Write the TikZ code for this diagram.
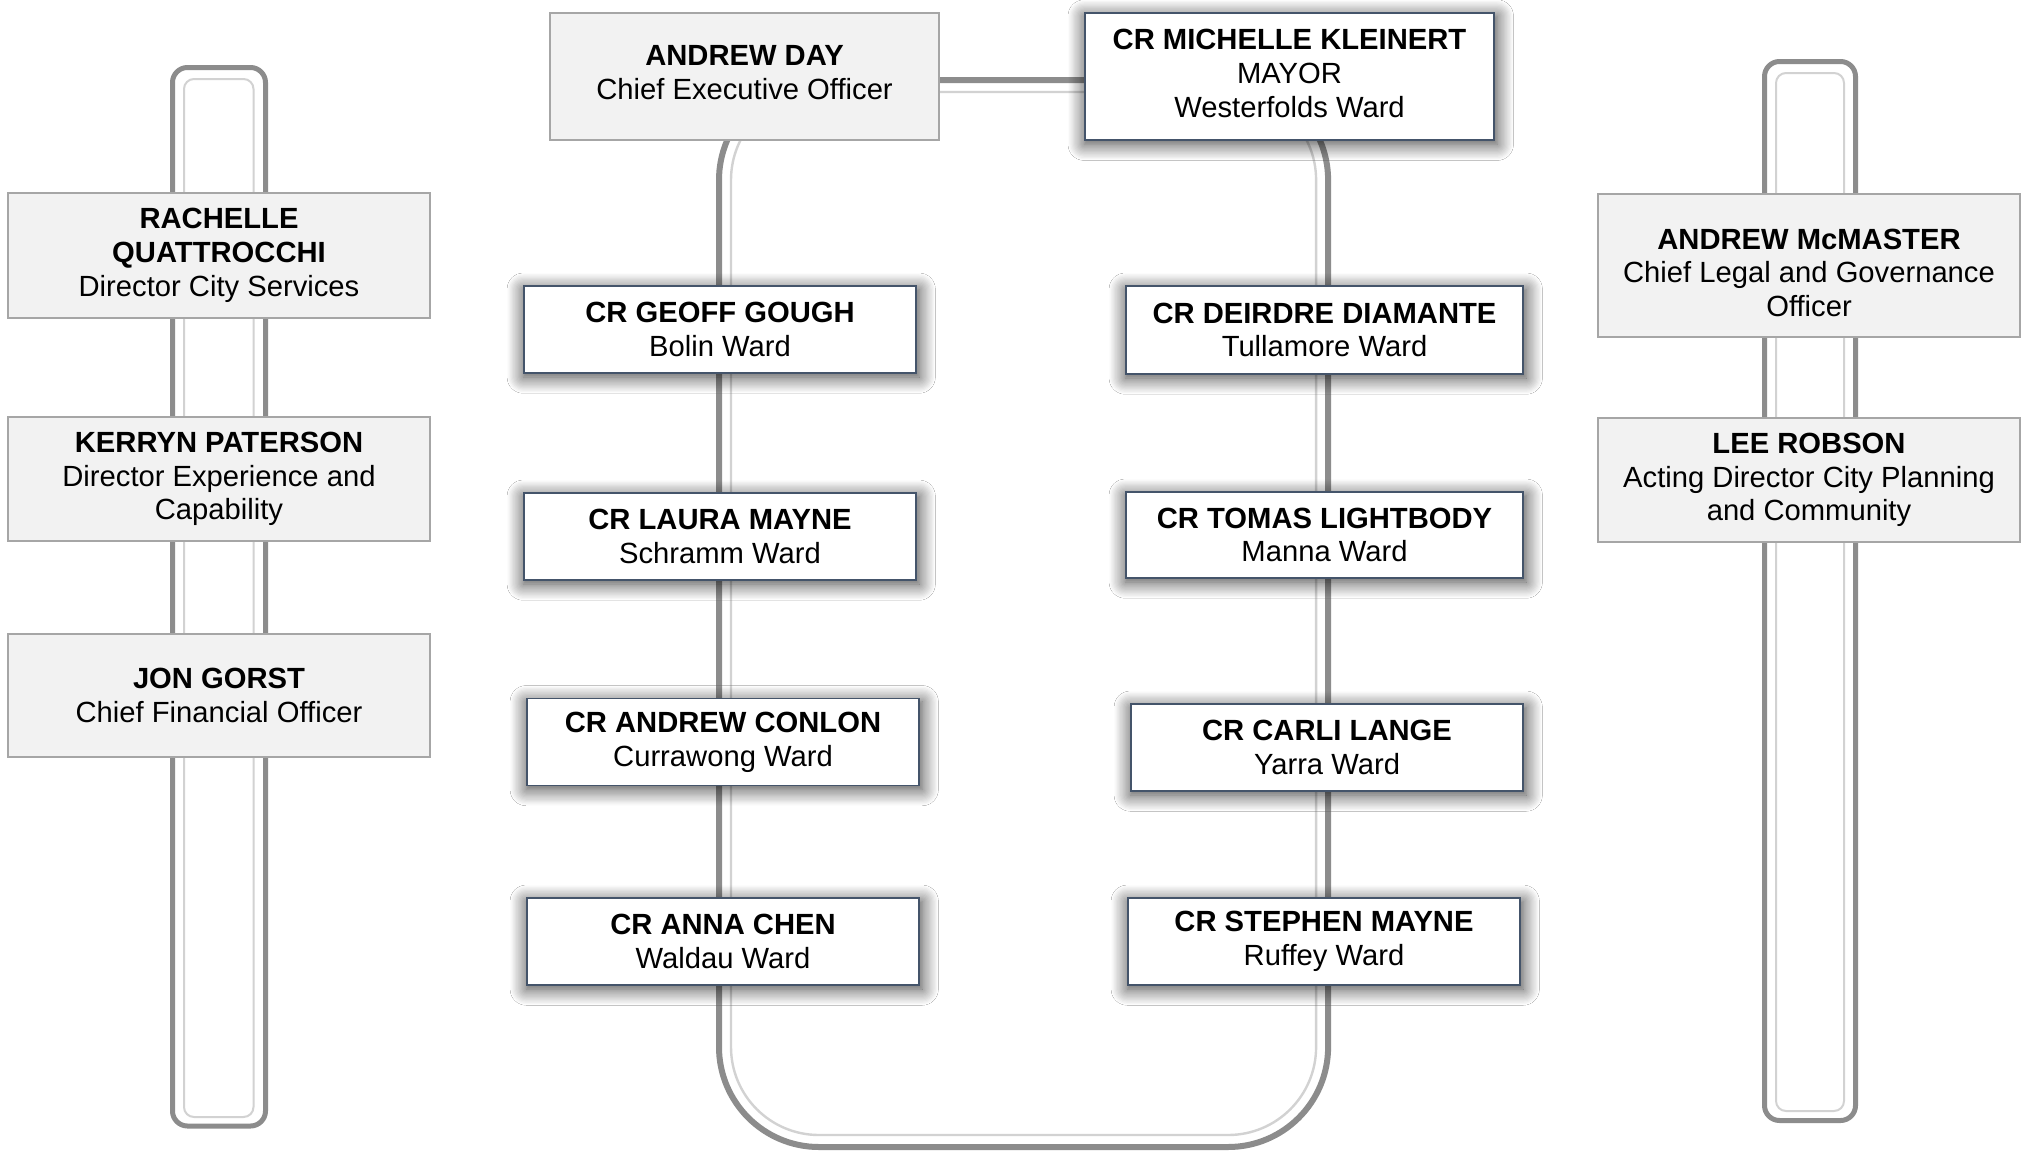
\documentclass[tikz,border=0pt]{standalone}
\usepackage{fontspec}
\setmainfont{Liberation Sans}
\usetikzlibrary{positioning,backgrounds,shadows.blur}
\definecolor{boxgray}{HTML}{F2F2F2}
\definecolor{edgegray}{HTML}{A6A6A6}
\definecolor{slate}{HTML}{44546A}
\definecolor{linedark}{HTML}{8C8C8C}
\definecolor{linelight}{HTML}{D2D2D2}
\tikzstyle{officer} = [rectangle, draw=edgegray, line width=0.7pt, fill=boxgray, minimum width=211pt, minimum height=62pt, align=center, inner sep=2pt, font=\fontsize{14.6pt}{16.9pt}\selectfont]
\tikzstyle{councillor} = [rectangle, draw=slate, line width=0.7pt, fill=white, minimum width=196pt, minimum height=43.5pt, align=center, inner sep=2pt, font=\fontsize{14.6pt}{16.9pt}\selectfont, blur shadow={shadow blur steps=14, shadow xshift=0.6pt, shadow yshift=-1.8pt, shadow blur radius=8pt, shadow scale=1.01, shadow opacity=75}]
\tikzstyle{darkline} = [draw=linedark, line width=3pt]
\tikzstyle{lightline} = [draw=linelight, line width=1.2pt]

\begin{document}
\begin{tikzpicture}[x=0.5pt, y=-0.5pt]
  \useasboundingbox (0,0) rectangle (2029,1151);

  % chief executive and mayor
  \node (ceo) [officer, minimum width=194.5pt, minimum height=63.5pt] at (744.5,76.5) {\textbf{ANDREW DAY}\\Chief Executive Officer\rule[-4pt]{0pt}{0pt}};
  \node (mayor) [councillor, minimum width=204.5pt, minimum height=63.5pt] at (1289.5,76.5) {\textbf{CR MICHELLE KLEINERT}\\MAYOR\\Westerfolds Ward\rule[-3pt]{0pt}{0pt}};

  % directors, left
  \node (rachelle) [officer, minimum height=62.5pt] at (219,255.5) {\textbf{RACHELLE}\\\textbf{QUATTROCCHI}\\Director City Services};
  \node (kerryn) [officer] at (219,479) {\textbf{KERRYN PATERSON}\\Director Experience and\\Capability};
  \node (jon) [officer, minimum height=61.5pt] at (219,695.5) {\textbf{JON GORST}\\Chief Financial Officer};

  % directors, right
  \node (andrewm) [officer, minimum height=71.5pt] at (1809,265.5) {\rule{0pt}{17.5pt}\textbf{ANDREW McMASTER}\\Chief Legal and Governance\\Officer};
  \node (lee) [officer] at (1809,480) {\textbf{LEE ROBSON}\\Acting Director City Planning\\and Community};

  % councillors, left
  \node (geoff) [councillor] at (720,329.5) {\textbf{CR GEOFF GOUGH}\\Bolin Ward};
  \node (laura) [councillor] at (720,536.5) {\textbf{CR LAURA MAYNE}\\Schramm Ward};
  \node (conlon) [councillor] at (723,742) {\textbf{CR ANDREW CONLON}\\Currawong Ward};
  \node (anna) [councillor] at (723,941.5) {\textbf{CR ANNA CHEN}\\Waldau Ward};

  % councillors, right
  \node (deirdre) [councillor, minimum width=198.5pt, minimum height=44pt] at (1324.5,330) {\textbf{CR DEIRDRE DIAMANTE}\\Tullamore Ward};
  \node (tomas) [councillor, minimum width=198.5pt, minimum height=43pt] at (1324.5,535) {\textbf{CR TOMAS LIGHTBODY}\\Manna Ward};
  \node (carli) [councillor] at (1327,747.5) {\textbf{CR CARLI LANGE}\\Yarra Ward};
  \node (stephen) [councillor] at (1324,941.5) {\textbf{CR STEPHEN MAYNE}\\Ruffey Ward};

  \begin{scope}[on background layer]
    \fill[white] (0,0) rectangle (2029,1151);
    % side bars
    \coordinate (lbartop) at (172.5,67.5);
    \coordinate (lbarbot) at (265.5,1126);
    \coordinate (rbartop) at (1764.5,61.5);
    \coordinate (rbarbot) at (1855.5,1120.5);
    \draw[darkline, line width=2.5pt, rounded corners=7.5pt] (lbartop) rectangle (lbarbot);
    \draw[lightline, line width=1pt, rounded corners=5pt] (184,79) rectangle (253.5,1117);
    \draw[darkline, line width=2.5pt, rounded corners=7.5pt] (rbartop) rectangle (rbarbot);
    \draw[lightline, line width=1pt, rounded corners=5pt] (1776,73) rectangle (1844,1111);

    % council loop
    \coordinate (looptop) at (1000,80);
    \coordinate (loopbot) at (1000,1147);
    \coordinate (innertop) at (1000,92);
    \coordinate (innerbot) at (1000,1135);
    \coordinate (leftrun) at ([xshift=-0.5pt]geoff.center);
    \coordinate (rightrun) at ([xshift=1.8pt]deirdre.center);
    \coordinate (leftin) at ([xshift=5.5pt]geoff.center);
    \coordinate (rightin) at ([xshift=-4.2pt]deirdre.center);
    \draw[darkline, rounded corners=50pt] (looptop) -| (leftrun |- loopbot) -| (rightrun |- looptop) -- cycle;
    \draw[lightline, rounded corners=44pt] (innertop) -| (leftin |- innerbot) -| (rightin |- innertop) -- cycle;
  \end{scope}
\end{tikzpicture}
\end{document}
